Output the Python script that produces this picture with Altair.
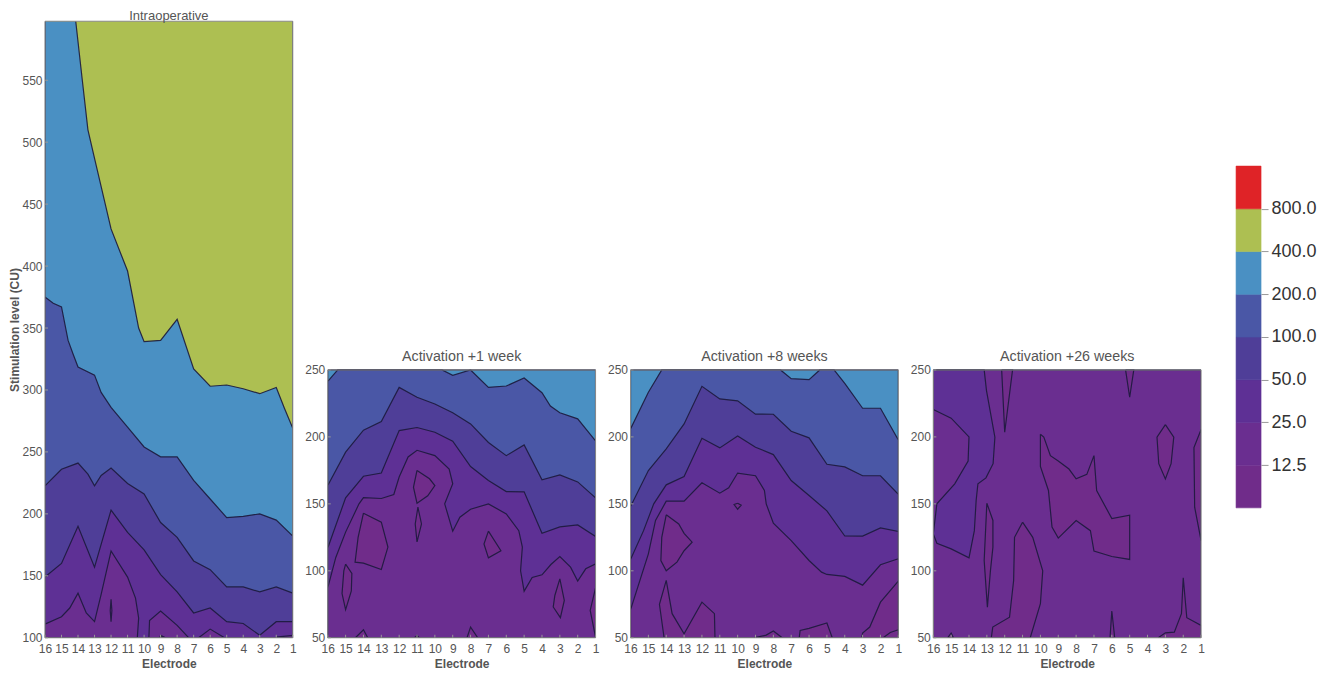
import altair as alt
import pandas as pd

ELECTRODES = list(range(16, 0, -1))
COL = {"800": "#DF2327", "400": "#ADBF52", "200": "#4A90C3", "100": "#4A57A6",
       "50": "#4F3E98", "25": "#5E3095", "12.5": "#6A2E90", "low": "#702C8A"}
GRAYTXT = "#555555"
FONT = "Liberation Sans"

# ---------- Intraoperative: (level band, outline points as electrode, CU)
INTRA = [
 ("400", [(16,599),(1,599),(1,100),(16,100)]),
 ("200", [(16,599),(14.15,599),(13.74,550),(13.4,510),(13,487),(12,430),(11,396),(10.33,350),(10,339),(9,340),(8,357),(7,317),(6,303),(5,304),(4,301),(3,297),(2,302),(1.5,285),(1,269),(1,100),(16,100)]),
 ("100", [(16,375),(15.5,370),(15,367),(14.6,340),(14.3,329),(14,318.5),(13,312),(12.6,298),(12,286),(11,270),(10,254),(9,246),(8,246),(7,227),(6,212),(5,197),(4,198),(3,200),(2,195),(1,182),(1,100),(16,100)]),
 ("50", [(16,222.6),(15,236),(14,241),(13.4,232),(13,222.6),(12.6,231),(12,237),(11,224.5),(10,216),(9,193),(8,181),(7,162),(6,155),(5,141),(4,141),(3,137),(2,141),(1,136),(1,100),(16,100)]),
 ("25", [(16,149),(15,160),(14,190),(13,157),(12,203),(11,185),(10,171),(9,151),(8,137),(7,120),(6,124),(5,113),(4,111.5),(3,102),(2,113),(1,113),(1,100),(16,100)]),
 ("12.5", [(16,111),(15,117),(14.5,124),(14,136),(13.5,120),(13,113),(12.6,135),(12,170),(11,149),(10.52,132),(10.33,116),(10.41,100),(16,100)]),
 ("12.5", [(9.71,100),(9.67,114),(9,121.5),(8,110),(7.3,100)]),
 ("12.5", [(6.7,100),(6,107),(5.13,100)]),
 ("12.5", [(2,100.5),(1,102),(1,100)]),
 ("low", [(12,131),(11.95,122),(12,113),(12.05,122)]),
 ("low", [(9,102),(8.7,100),(9.05,100)]),
]

# ---------- Activation +1 week
WEEK1 = [
 ("200", [(16,250),(1,250),(1,50),(16,50)]),
 ("100", [(16,241.5),(15.44,250),(9.6,250),(9,246),(8,250),(7,237),(6,238),(5,244),(4,233),(3.53,223),(3,218),(2,213.5),(1,197),(1,50),(16,50)]),
 ("50", [(16,163.7),(15,188.6),(14,205),(13,211.4),(12,237),(11,229.6),(10,224.6),(9,218),(8,209.7),(7,195.8),(6,186),(5,194),(4,168),(3,171.6),(2,166.4),(1,154.5),(1,50),(16,50)]),
 ("25", [(16,117),(15,154.5),(14,170.6),(13,173),(12,204.7),(11,207),(10,203.5),(9,196.8),(8,177.9),(7,167.4),(6,159.2),(5,159),(4,128),(3,132.8),(2,134.3),(1,125.6),(1,50),(16,50)]),
 ("12.5", [(16,87.3),(15.55,110),(15,128.9),(14.25,150),(14,154.7),(13,154),(12.3,157),(12,170),(11.5,185),(11,190),(10,186),(9.2,176),(9,165),(9.45,150),(9,129.6),(8.6,140),(8,146),(7,150),(6,142.5),(5.3,130),(5.1,117.7),(5.2,100),(5,84.8),(4.55,95),(4,97),(3.5,104.7),(3,110.7),(2.4,102.7),(2,92.3),(1.55,101.5),(1,105.2),(1,50),(16,50)]),
 ("low", [(14,143),(13,136.3),(12.63,117.7),(13,101),(14,105.7),(14.47,106.5),(14.3,125)]),
 ("low", [(15,105),(14.65,98),(14.68,85),(15,71),(15.2,83),(15.1,100)]),
 ("low", [(11,175),(10.3,168.7),(10,163.7),(10.4,156),(11,150.5),(11.2,162.4)]),
 ("low", [(10.95,147.5),(10.75,135),(11,121.6),(11.1,135)]),
 ("low", [(7,129.6),(6.3,115),(7,109.7),(7.25,120)]),
 ("low", [(3,94),(2.75,77.9),(2.97,65),(3.37,73),(3.28,81.6)]),
 ("low", [(1,87.3),(1.3,70.4),(1,50.5)]),
 ("low", [(14.45,50),(14,56),(13.76,50)]),
 ("low", [(11.15,50),(11,51.7),(10.87,50)]),
 ("low", [(8.2,50),(8,58),(7.6,50)]),
]

# ---------- Activation +8 weeks
WEEK8 = [
 ("200", [(16,250),(1,250),(1,50),(16,50)]),
 ("100", [(16,206),(15,233.3),(14.25,250),(7.6,250),(7,243.5),(6,242.8),(5.4,250),(4.6,250),(4,240),(3,221.4),(2,221.4),(1,197.8),(1,50),(16,50)]),
 ("50", [(16,148),(15,174.9),(14,191),(13,209.7),(12,237.8),(11,228.4),(10,226.9),(9,217),(8,216.9),(7,204.2),(6,199.3),(5,179.6),(4,177.6),(3,171),(2,171),(1,157.2),(1,50),(16,50)]),
 ("25", [(16,108.5),(15.27,130),(14.7,150),(14,164.2),(13,170.4),(12,199),(11,191.8),(10,200.7),(9,192.3),(8,186.8),(7,167.4),(6,156.2),(5,144.8),(4,126),(3,125.9),(2,132),(1,129.4),(1,50),(16,50)]),
 ("12.5", [(16,70.9),(15,112.7),(14.6,137.6),(14,152),(13,152),(12,165.7),(11,158),(10.5,162),(10,173),(9,171),(8.5,160),(8.4,150),(8,135.6),(7,122.6),(6,107.7),(5.3,99),(5,97.3),(4,95.8),(3,89.3),(2,104.5),(1,109),(1,50),(16,50)]),
 ("low", [(14,141.8),(13.3,135),(13,128),(12.55,121.4),(13,115),(13.4,106.5),(14,100),(14.3,107.7),(14.25,125)]),
 ("low", [(10,150.5),(10.2,149.5),(10,146),(9.8,149)]),
 ("low", [(14.12,50),(14.38,75),(14,92.8),(13.67,68),(13,53),(12,76.6),(11.3,68),(11.27,50)]),
 ("low", [(9.08,50),(8.4,52),(8,55),(7.5,50)]),
 ("low", [(6.55,50),(6.5,55.5),(6,57),(5,61),(4.7,50)]),
 ("low", [(3.05,50),(3,53.5),(2.6,58),(2,76.6),(1,92.3),(1,50)]),
 ("low", [(1.85,50),(1.45,54),(1,56),(1,50)]),
]

# ---------- Activation +26 weeks
WEEK26 = [
 ("12.5", [(16,250),(1,250),(1,50),(16,50)]),
 ("25", [(16,250),(13.15,250),(13.02,234.6),(12.55,199.8),(12.65,180),(13.05,169.4),(13.5,165),(13.6,152.5),(13.7,130),(14,109.7),(15,116.4),(15.8,120.6),(16,127.6),(15.8,150),(14.8,165),(14.05,182),(14,200),(15,214),(16,220.4)]),
 ("low", [(12.17,250),(12,203.5),(11.56,250)]),
 ("low", [(5.23,250),(5,229.6),(4.77,250)]),
 ("low", [(3,209.2),(2.53,199.8),(2.68,180),(3,168.6),(3.37,180),(3.47,199.8)]),
 ("low", [(1,205.5),(1.4,192),(1.36,147.5),(1,122.6)]),
 ("low", [(10,202),(9.81,199.8),(9.44,186),(9,182),(8.4,176),(8,168.7),(7.4,172),(7,186),(6.85,160),(6,139),(5,141.5),(5,108.5),(6,110.7),(7,114.7),(7.2,130),(8,137.6),(9,124.4),(9.35,132.6),(9.55,160),(10,177.9)]),
 ("low", [(13,150.5),(12.66,137.6),(12.66,117.7),(12.8,100),(12.97,72.9),(13.15,107.7)]),
 ("low", [(11,136.3),(11.45,125),(11.5,92.8),(11.73,65.4),(12.67,58),(12.75,50),(10.57,50),(10,75.4),(9.87,100),(10.43,125)]),
 ("low", [(15.2,50),(15,53.5),(14.87,50)]),
 ("low", [(6.1,50),(6,70),(5.84,50)]),
 ("low", [(3.4,50),(3,53.7),(2.5,54.2),(2.1,68),(2,94.8),(1.8,65),(1,59.2),(1,50)]),
]

TITLES = ["Intraoperative", "Activation +1 week", "Activation +8 weeks", "Activation +26 weeks"]

# colour bar
BAR_LOW = [6.25, 12.5, 25, 50, 100, 200, 400, 800]
BAR_HIGH = [12.5, 25, 50, 100, 200, 400, 800, 1600]
BAR_KEY = ["low", "12.5", "25", "50", "100", "200", "400", "800"]
BAR_TICKS = [12.5, 25, 50, 100, 200, 400, 800]

H = 617
STROKE = "#1c1a3c"
KEYS = list(COL)
RANGE = [COL[k] for k in KEYS]


def panel(shapes, title, width, ydomain, yticks, top, ytitle, title_y, title_size):
    rows = []
    for sid, (lev, pts) in enumerate(shapes):
        for i, (e, v) in enumerate(list(pts) + [pts[0]]):
            rows.append({"sid": sid, "band": lev, "o": i, "e": e, "v": v})
    df = pd.DataFrame(rows)
    xs = alt.X("e:Q", scale=alt.Scale(domain=[16, 1], nice=False, zero=False),
               axis=alt.Axis(values=ELECTRODES, title="Electrode", format="d", domain=False, ticks=False,
                             grid=False, labelFont=FONT, labelFontSize=12, labelColor=GRAYTXT,
                             labelPadding=6, labelOverlap=False, labelFlush=False,
                             titleFont=FONT, titleFontSize=12, titleFontWeight="bold",
                             titleColor=GRAYTXT, titlePadding=4))
    ys = alt.Y("v:Q", scale=alt.Scale(domain=ydomain, nice=False, zero=False),
               axis=alt.Axis(values=yticks, title=ytitle, format="d", domain=False, ticks=False,
                             grid=False, labelFont=FONT, labelFontSize=12, labelColor=GRAYTXT,
                             labelPadding=3, labelFlush=False, labelOverlap=False,
                             titleFont=FONT, titleFontSize=12, titleFontWeight="bold",
                             titleColor=GRAYTXT, titlePadding=0))
    fills = alt.Chart(df).mark_line(stroke=STROKE, strokeWidth=1.2, strokeOpacity=0.9, clip=True).encode(
        x=xs, y=ys, order="o:Q", detail="sid:N",
        fill=alt.Fill("band:N", scale=alt.Scale(domain=KEYS, range=RANGE), legend=None))
    xt = alt.Chart(pd.DataFrame({"e": ELECTRODES})).mark_rule(color="#999999", strokeWidth=1).encode(
        x=xs, y=alt.value(H), y2=alt.value(H - 3))
    yt = alt.Chart(pd.DataFrame({"v": yticks})).mark_rule(color="#999999", strokeWidth=1).encode(
        y=ys, x=alt.value(0), x2=alt.value(3))
    frame = alt.Chart(pd.DataFrame({"a": [0]})).mark_rect(fillOpacity=0, stroke="#8a8a8a", strokeWidth=1).encode(
        x=alt.value(0), x2=alt.value(width), y=alt.value(top), y2=alt.value(H))
    ttl = alt.Chart(pd.DataFrame({"t": [title]})).mark_text(
        font=FONT, fontSize=title_size, color=GRAYTXT, baseline="alphabetic", align="center").encode(
        text="t:N", x=alt.value(width / 2), y=alt.value(title_y))
    return alt.layer(fills, xt, yt, frame, ttl).properties(width=width, height=H)


p1 = panel(INTRA, TITLES[0], 248, [100, 597.6], [100, 150, 200, 250, 300, 350, 400, 450, 500, 550],
           0, "Stimulation level (CU)", -1, 13)
W = 268
TOP = H - 268
DOM = [50, 510.4]
YT = [50, 100, 150, 200, 250]
p2 = panel(WEEK1, TITLES[1], W, DOM, YT, TOP, None, TOP - 9, 14.3)
p3 = panel(WEEK8, TITLES[2], W, DOM, YT, TOP, None, TOP - 9, 14.3)
p4 = panel(WEEK26, TITLES[3], W, DOM, YT, TOP, None, TOP - 9, 14.3)

bar_df = pd.DataFrame({"low": BAR_LOW, "high": BAR_HIGH, "key": BAR_KEY})
bar = alt.Chart(bar_df).mark_rect(strokeWidth=0.6).encode(
    x=alt.value(0), x2=alt.value(25),
    y=alt.Y("low:Q", scale=alt.Scale(type="log", base=2, domain=[0.759, 16794], nice=False),
            axis=alt.Axis(orient="right", values=BAR_TICKS, format=".1f", title=None, domain=False,
                          grid=False, ticks=True, tickSize=7, tickColor="#999999",
                          labelFont=FONT, labelFontSize=18, labelColor="#333333", labelPadding=3,
                          labelOverlap=False, labelFlush=False)),
    y2="high:Q",
    fill=alt.Fill("key:N", scale=alt.Scale(domain=KEYS, range=RANGE), legend=None),
    stroke=alt.Stroke("key:N", scale=alt.Scale(domain=KEYS, range=RANGE), legend=None),
).properties(width=25, height=H)

chart = alt.hconcat(p1, p2, p3, p4, bar, spacing=35, bounds="flush").properties(
    padding={"left": 0, "top": 2, "right": 0, "bottom": 0}, background="white"
).resolve_scale(x="independent", y="independent", fill="independent", stroke="independent").configure_view(stroke=None)

chart.save("out.html", embed_options={"renderer": "svg", "actions": False})
